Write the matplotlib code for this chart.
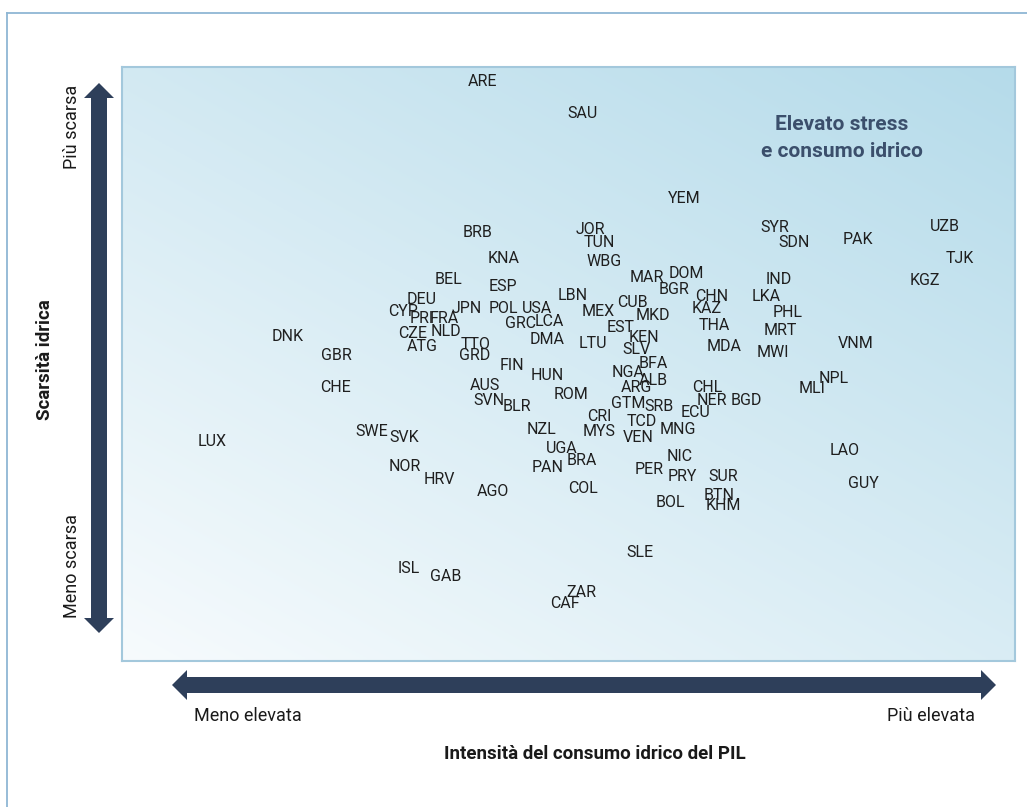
import matplotlib
matplotlib.use("Agg")
import matplotlib.pyplot as plt
import numpy as np
from matplotlib.patches import FancyArrow

# Country codes with position in the chart (0-100 on each axis)
codes = ["ARE", "SAU", "YEM", "BRB", "JOR", "TUN", "SYR", "SDN", "PAK", "UZB",
         "TJK", "KGZ", "KNA", "WBG", "BEL", "ESP", "MAR", "DOM", "BGR", "IND",
         "DEU", "LBN", "CUB", "CHN", "LKA", "CYP", "PRI", "FRA", "JPN", "POL",
         "USA", "MEX", "KAZ", "MKD", "PHL", "GRC", "LCA", "EST", "THA", "MRT",
         "CZE", "NLD", "DNK", "KEN", "DMA", "LTU", "VNM", "ATG", "TTO", "MDA",
         "SLV", "MWI", "GBR", "GRD", "BFA", "FIN", "NGA", "HUN", "NPL", "ALB",
         "AUS", "ARG", "CHL", "CHE", "MLI", "ROM", "BGD", "NER", "SVN", "GTM",
         "BLR", "SRB", "ECU", "CRI", "TCD", "NZL", "MYS", "MNG", "SWE", "VEN",
         "SVK", "LUX", "UGA", "LAO", "NIC", "BRA", "NOR", "PAN", "PER", "PRY",
         "SUR", "HRV", "GUY", "COL", "AGO", "BTN", "BOL", "KHM", "SLE", "ISL",
         "GAB", "ZAR", "CAF"]

intensity = [40.4, 51.6, 63.0, 39.8, 52.5, 53.5, 73.1, 75.3, 82.4, 92.1,
             93.8, 89.9, 42.7, 54.0, 36.6, 42.6, 58.8, 63.2, 61.8, 73.5,
             33.6, 50.5, 57.2, 66.0, 72.1, 31.5, 33.6, 36.1, 38.6, 42.7,
             46.5, 53.3, 65.5, 59.4, 74.5, 44.6, 47.9, 55.8, 66.3, 73.7,
             32.5, 36.3, 18.5, 58.5, 47.6, 52.7, 82.1, 33.6, 39.6, 67.4,
             57.6, 72.9, 24.0, 39.5, 59.5, 43.7, 56.7, 47.6, 79.7, 59.5,
             40.6, 57.6, 65.5, 23.9, 77.3, 50.3, 69.9, 66.1, 41.1, 56.7,
             44.2, 60.1, 64.2, 53.4, 58.2, 47.0, 53.4, 62.2, 28.0, 57.8,
             31.6, 10.1, 49.3, 80.9, 62.5, 51.5, 31.7, 47.7, 59.0, 62.8,
             67.3, 35.5, 83.0, 51.6, 41.5, 66.9, 61.4, 67.3, 58.0, 32.1,
             36.3, 51.4, 49.6]

scarcity = [97.6, 92.1, 77.8, 72.2, 72.7, 70.4, 72.9, 70.5, 70.9, 73.2,
            67.8, 64.0, 67.8, 67.3, 64.3, 63.1, 64.6, 65.2, 62.6, 64.3,
            60.9, 61.6, 60.3, 61.3, 61.4, 58.8, 57.6, 57.7, 59.4, 59.4,
            59.3, 58.8, 59.3, 58.1, 58.6, 56.9, 57.1, 56.2, 56.4, 55.6,
            55.2, 55.4, 54.7, 54.5, 54.2, 53.5, 53.5, 52.9, 53.2, 53.0,
            52.4, 52.0, 51.5, 51.5, 50.0, 49.8, 48.5, 48.1, 47.6, 47.3,
            46.3, 46.1, 46.1, 46.0, 45.8, 44.8, 43.9, 43.8, 43.8, 43.3,
            42.9, 42.8, 41.8, 41.1, 40.4, 38.9, 38.7, 38.9, 38.6, 37.7,
            37.7, 37.0, 35.7, 35.4, 34.5, 33.8, 32.7, 32.5, 32.3, 31.0,
            31.0, 30.6, 29.8, 29.1, 28.6, 27.9, 26.6, 26.1, 18.2, 15.5,
            14.3, 11.6, 9.6]

corner_note = "Elevato stress\ne consumo idrico"
y_title = "Scarsità idrica"
y_high, y_low = "Più scarsa", "Meno scarsa"
x_title = "Intensità del consumo idrico del PIL"
x_low, x_high = "Meno elevata", "Più elevata"

W, H = 1027, 807
NAVY = "#2e3f5a"
FONT = "Roboto"

fig = plt.figure(figsize=(W / 100, H / 100), dpi=100, facecolor="white")

# overlay in pixel units for the frame, arrows and axis captions
deco = fig.add_axes([0, 0, 1, 1])
deco.set_xlim(0, W)
deco.set_ylim(H, 0)
deco.axis("off")

deco.plot([7, W], [13, 13], color="#8fb6d4", lw=1.3)
deco.plot([7, 7], [13, H], color="#8fb6d4", lw=1.3)

def double_arrow(ax, x0, y0, x1, y1):
    cx, cy = (x0 + x1) / 2, (y0 + y1) / 2
    for ex, ey in [(x0, y0), (x1, y1)]:
        ax.add_patch(FancyArrow(cx, cy, ex - cx, ey - cy, width=16,
                                head_width=30, head_length=15,
                                length_includes_head=True,
                                color=NAVY, lw=0))

double_arrow(deco, 99, 83, 99, 633)
double_arrow(deco, 172, 685, 996, 685)

deco.text(72, 127, y_high, rotation=90, ha="center", va="center",
          fontsize=13, family=FONT, color="#1a1a1a")
deco.text(72, 566, y_low, rotation=90, ha="center", va="center",
          fontsize=13, family=FONT, color="#1a1a1a")
deco.text(45, 360, y_title, rotation=90, ha="center", va="center",
          fontsize=13.5, family=FONT, weight="bold", color="#1a1a1a")
deco.text(194, 716, x_low, ha="left", va="center",
          fontsize=13, family=FONT, color="#1a1a1a")
deco.text(975, 716, x_high, ha="right", va="center",
          fontsize=13, family=FONT, color="#1a1a1a")
deco.text(595, 754, x_title, ha="center", va="center",
          fontsize=13.5, family=FONT, weight="bold", color="#1a1a1a")

# main plotting box
box_l, box_t, box_r, box_b = 122, 67, 1015, 661
ax = fig.add_axes([box_l / W, (H - box_b) / H,
                   (box_r - box_l) / W, (box_b - box_t) / H])
ax.set_xlim(0, 100)
ax.set_ylim(0, 100)

# diagonal gradient: near white bottom-left to light blue top-right
xn, yn = np.meshgrid(np.linspace(0, 1, 400), np.linspace(0, 1, 300))
t = 0.45 * xn + 0.55 * yn
c0 = np.array([247, 251, 253]) / 255
c1 = np.array([181, 219, 234]) / 255
img = c0 + (c1 - c0) * t[..., None]
ax.imshow(img, extent=(0, 100, 0, 100), origin="lower", aspect="auto", zorder=0)

for s in ax.spines.values():
    s.set_color("#a3c8dc")
    s.set_linewidth(1.5)
ax.set_xticks([])
ax.set_yticks([])

for code, xv, yv in zip(codes, intensity, scarcity):
    ax.text(xv, yv, code, ha="center", va="center", fontsize=11.5,
            family=FONT, color="#1f1f1f", zorder=3)

ax.text(80.6, 88.0, corner_note, ha="center", va="center", fontsize=15,
        family=FONT, weight="bold", color="#3b4f6c", linespacing=1.55,
        zorder=3)

fig.savefig("out.png", dpi=100, facecolor="white")
